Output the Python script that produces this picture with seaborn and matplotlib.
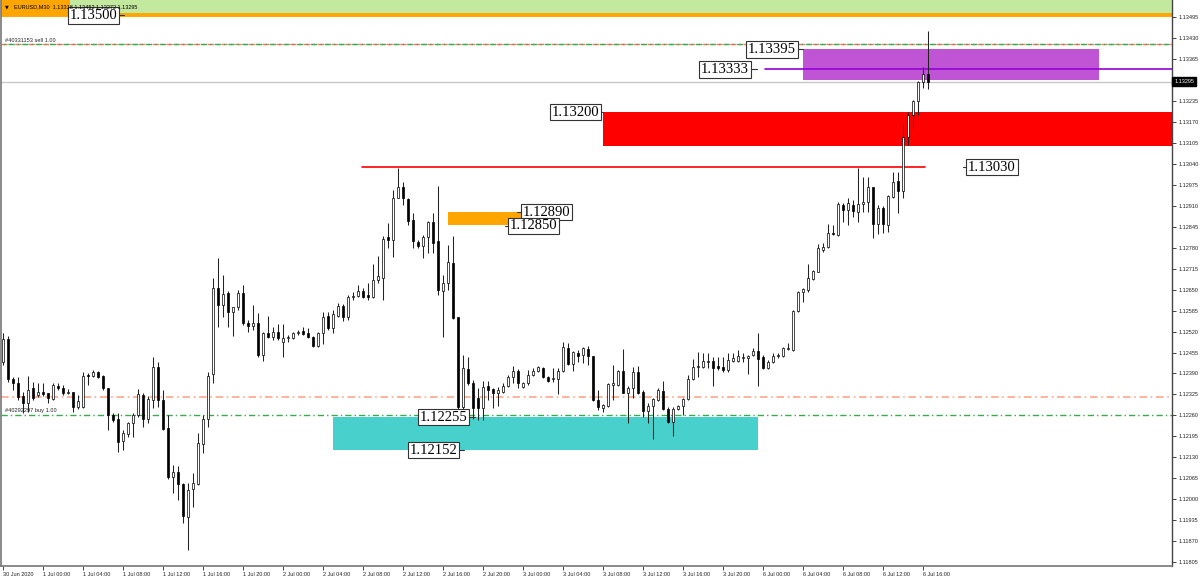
import numpy as np
import pandas as pd
import matplotlib
matplotlib.use("Agg")
import matplotlib.pyplot as plt
from matplotlib.patches import Rectangle
import seaborn as sns

sns.set_style("white")
plt.rcParams['font.family'] = ['Liberation Sans', 'DejaVu Sans']

# ---------------- data (prices in points, 1 point = 0.00001) ----------------
open_pts = [112426,112497,112373,112361,112320,112299,112345,112324,112333,112330,
            112311,112351,112345,112330,112333,112286,112286,112386,112382,112395,
            112382,112345,112262,112249,112181,112203,112237,112262,112324,112249,
            112308,112410,112308,112221,112069,112085,112048,111945,112032,112048,
            112172,112249,112389,112655,112602,112640,112581,112596,112640,112547,
            112538,112547,112448,112516,112503,112519,112488,112500,112500,112516,
            112522,112516,112503,112475,112516,112568,112531,112568,112599,112565,
            112627,112630,112646,112633,112627,112680,112686,112814,112804,112934,
            112968,112931,112866,112798,112786,112814,112860,112801,112646,112670,
            112733,112565,112286,112404,112361,112314,112283,112351,112342,112330,
            112333,112351,112379,112398,112348,112361,112386,112398,112407,112379,
            112373,112373,112398,112469,112420,112454,112448,112466,112444,112308,
            112283,112289,112355,112355,112398,112330,112345,112395,112333,112274,
            112289,112308,112336,112280,112240,112280,112289,112311,112373,112410,
            112410,112426,112429,112413,112410,112401,112429,112429,112438,112438,
            112448,112460,112441,112407,112426,112444,112444,112466,112463,112584,
            112643,112649,112683,112705,112773,112782,112826,112820,112913,112897,
            112913,112891,112916,112922,112968,112854,112903,112851,112937,112987,
            112956,113123,113192,113235,113294,113318]
high_pts = [112516,112506,112379,112379,112333,112382,112364,112361,112361,112330,
            112361,112361,112355,112342,112333,112324,112395,112392,112401,112398,
            112386,112345,112268,112268,112215,112240,112268,112342,112330,112320,
            112441,112426,112339,112262,112106,112103,112051,112051,112082,112206,
            112262,112395,112686,112748,112696,112646,112596,112649,112664,112556,
            112602,112578,112519,112568,112534,112544,112544,112510,112519,112525,
            112534,112531,112506,112519,112581,112581,112587,112609,112606,112633,
            112643,112664,112655,112670,112730,112754,112817,112857,112959,113027,
            112984,112934,112888,112804,112820,112863,112888,112971,112696,112788,
            112817,112565,112448,112441,112370,112345,112367,112367,112345,112348,
            112361,112386,112413,112404,112364,112401,112407,112413,112410,112382,
            112407,112407,112488,112485,112460,112463,112472,112475,112444,112339,
            112296,112361,112416,112401,112466,112351,112410,112413,112339,112299,
            112314,112345,112367,112286,112286,112293,112314,112386,112435,112457,
            112454,112454,112441,112441,112441,112454,112454,112463,112454,112448,
            112469,112516,112448,112432,112454,112454,112472,112485,112587,112646,
            112655,112730,112711,112792,112795,112854,112851,112922,112919,112934,
            112928,113027,112999,112999,112968,112913,112910,112944,113015,113015,
            113164,113201,113238,113297,113340,113452]
low_pts = [112416,112364,112339,112308,112268,112271,112308,112317,112320,112299,
           112308,112339,112324,112327,112271,112280,112283,112355,112379,112376,
           112339,112215,112240,112147,112153,112193,112193,112255,112224,112237,
           112283,112286,112215,112063,112020,111998,111927,111843,111976,112045,
           112144,112224,112361,112534,112565,112534,112506,112587,112541,112519,
           112525,112441,112429,112500,112494,112494,112441,112488,112497,112510,
           112510,112500,112472,112472,112482,112525,112516,112565,112553,112556,
           112618,112627,112624,112618,112624,112670,112618,112779,112751,112934,
           112913,112851,112779,112779,112748,112764,112764,112633,112503,112649,
           112559,112277,112255,112355,112249,112246,112246,112308,112283,112289,
           112330,112348,112361,112345,112345,112355,112382,112395,112376,112364,
           112364,112327,112395,112416,112398,112426,112423,112416,112305,112277,
           112271,112286,112308,112351,112330,112237,112314,112327,112255,112237,
           112187,112305,112277,112237,112197,112277,112262,112308,112370,112379,
           112407,112407,112351,112401,112395,112395,112426,112426,112426,112389,
           112444,112351,112404,112404,112423,112438,112441,112463,112460,112581,
           112612,112643,112680,112705,112767,112779,112820,112817,112860,112851,
           112875,112860,112891,112891,112810,112823,112826,112829,112934,112888,
           112934,113098,113151,113192,113275,113272]
close_pts = [112497,112373,112361,112317,112299,112339,112314,112333,112327,112314,
             112355,112345,112330,112333,112286,112305,112382,112382,112395,112379,
             112345,112262,112246,112178,112206,112237,112262,112327,112249,112311,
             112410,112308,112218,112069,112085,112048,111948,112029,112051,112175,
             112249,112382,112655,112602,112637,112581,112596,112640,112547,112538,
             112547,112448,112516,112503,112519,112500,112500,112503,112516,112519,
             112513,112503,112475,112516,112565,112531,112575,112599,112565,112627,
             112630,112646,112627,112627,112680,112692,112807,112804,112934,112968,
             112934,112863,112801,112786,112814,112860,112795,112649,112670,112736,
             112562,112286,112407,112361,112283,112283,112348,112339,112330,112339,
             112351,112379,112398,112361,112361,112386,112398,112410,112379,112367,
             112376,112398,112472,112420,112457,112444,112469,112444,112308,112286,
             112293,112358,112361,112398,112330,112345,112395,112330,112274,112289,
             112311,112339,112280,112240,112280,112289,112311,112373,112410,112413,
             112429,112429,112407,112407,112401,112432,112438,112444,112441,112444,
             112460,112435,112407,112426,112444,112448,112469,112469,112584,112643,
             112652,112686,112708,112779,112782,112826,112823,112916,112897,112919,
             112894,112916,112922,112968,112854,112903,112854,112940,112984,112956,
             113123,113192,113235,113294,113318,113295]

symbol_title = "EURUSD,M30  1.13318 1.13452 1.13272 1.13295"
time_labels = ["30 Jun 2020", "1 Jul 00:00", "1 Jul 04:00", "1 Jul 08:00", "1 Jul 12:00",
               "1 Jul 16:00", "1 Jul 20:00", "2 Jul 00:00", "2 Jul 04:00", "2 Jul 08:00",
               "2 Jul 12:00", "2 Jul 16:00", "2 Jul 20:00", "3 Jul 00:00", "3 Jul 04:00",
               "3 Jul 08:00", "3 Jul 12:00", "3 Jul 16:00", "3 Jul 20:00", "6 Jul 00:00",
               "6 Jul 04:00", "6 Jul 08:00", "6 Jul 12:00", "6 Jul 16:00"]
bars_per_label = 8

# zones: (bar start, bar end, price low, price high, colour)
zone_start = [-5, 160, 120, 89, 66]
zone_end = [260, 219.2, 260, 105.4, 151]
zone_low = [1.13500, 1.13300, 1.13095, 1.12850, 1.12152]
zone_high = [1.14000, 1.13395, 1.13200, 1.12890, 1.12255]
zone_color = ['#C3E99E', '#BF55D5', '#FF0000', '#FFA500', '#48D1CC']

current_price = 1.13295
sell_price = 1.13412
buy_price = 1.12262
buy_sl = 1.12317
level_13030 = 1.13030
level_13333 = 1.13333
level_13500 = 1.13500

tick_start = 1.11805
tick_step = 0.00065

# ---------------- build ----------------
df = pd.DataFrame({"o": np.array(open_pts) / 1e5, "h": np.array(high_pts) / 1e5,
                   "l": np.array(low_pts) / 1e5, "c": np.array(close_pts) / 1e5})
df["x"] = np.arange(len(df))
df["bull"] = df["c"] >= df["o"]

fig = plt.figure(figsize=(12, 5.79), dpi=100)
ax = fig.add_axes([1 / 1200, 13 / 579, 1171 / 1200, 566 / 579])
ax.set_xlim(-0.4, 233.8)
ax.set_ylim(1.11793, 1.13548)

# zones
for s, e, lo, hi, col in zip(zone_start, zone_end, zone_low, zone_high, zone_color):
    ax.add_patch(Rectangle((s, lo), e - s, hi - lo, facecolor=col, edgecolor='none', zorder=1))
# orange block at top-left
ax.add_patch(Rectangle((-5, level_13500), 18.4, 0.001, facecolor='#FFA500', edgecolor='none', zorder=1.1))

# horizontal lines
ax.axhline(level_13500, color='#FFA500', lw=2.8, zorder=1.5)
ax.axhline(current_price, color='#C8C8C8', lw=1.0, zorder=1.2)
ax.axhline(sell_price, color='#F07A5A', lw=1.0, ls=(0, (4.5, 2.2, 1, 2.2)), zorder=1.6)
ax.axhline(sell_price, color='#3CA850', lw=1.0, ls=(4.9, (4.5, 2.2, 1, 2.2)), zorder=1.6)
ax.axhline(buy_sl, color='#FFA88A', lw=1.2, ls=(0, (4.5, 2.2, 1, 2.2)), zorder=1.6)
ax.axhline(buy_price, color='#3CA850', lw=1.0, ls=(0, (4.5, 2.2, 1, 2.2)), zorder=1.6)
ax.plot([71.8, 184.4], [level_13030, level_13030], color='#FF0000', lw=1.2, zorder=1.7)
ax.plot([152.4, 260], [level_13333, level_13333], color='#9400D3', lw=1.2, zorder=1.7)

# candles
ax.vlines(df["x"], df["l"], df["h"], color='#222222', lw=0.75, zorder=3)
body_low = np.minimum(df["o"], df["c"])
body_h = np.maximum(np.abs(df["c"] - df["o"]), 0.000012)
ax.bar(df["x"], body_h, bottom=body_low, width=0.56,
       color=np.where(df["bull"], 'white', 'black'), edgecolor='black', linewidth=0.5, zorder=4)

# price labels
box = dict(boxstyle='square,pad=0.12', fc='white', ec='#333333', lw=0.8)
lab_font = dict(family='Liberation Serif', fontsize=10.5, color='black', zorder=6)

def label(x, y, txt, ha, tick):
    ax.plot(tick, [y, y], color='#333333', lw=0.8, zorder=5)
    ax.text(x, y, txt, ha=ha, va='center', bbox=box, **lab_font)

label(22.8, 1.13500, "1.13500", 'right', [22.8, 24.2])
label(158.6, 1.13395, "1.13395", 'right', [158.6, 160])
label(149.2, 1.13333, "1.13333", 'right', [149.2, 150.8])
label(119.2, 1.13200, "1.13200", 'right', [119.2, 120])
label(193.0, 1.13030, "1.13030", 'left', [192.0, 193.0])
label(104.0, 1.12890, "1.12890", 'left', [102.8, 104.0])
label(101.4, 1.12848, "1.12850", 'left', [100.4, 101.4])
label(92.8, 1.12255, "1.12255", 'right', [92.8, 94.4])
label(90.8, 1.12152, "1.12152", 'right', [90.8, 92.2])

# order texts and title
small = dict(fontsize=4.1, color='#222222', zorder=7)
ax.text(0.4, 1.13421, "#40331153 sell 1.00", va='center', ha='left', **small)
ax.text(0.4, 1.12274, "#40292297 buy 1.00", va='center', ha='left', **small)
ax.text(0.003, 0.988, "\u25BC", transform=ax.transAxes, fontsize=3.5, va='center', ha='left',
        family='DejaVu Sans', color='black', zorder=7)
ax.text(0.011, 0.988, symbol_title, transform=ax.transAxes, fontsize=4.0, va='center',
        ha='left', color='black', zorder=7)

# axes styling (the tick hidden behind the current-price tag gets no label)
ticks_y = tick_start + tick_step * np.arange(27)
ytick_labels = ["" if abs(v - current_price) < tick_step / 2 else f"{v:.5f}" for v in ticks_y]
ax.yaxis.tick_right()
ax.set_yticks(ticks_y)
ax.set_yticklabels(ytick_labels)
ax.set_xticks(np.arange(len(time_labels)) * bars_per_label)
ax.set_xticklabels(time_labels, ha='left')
ax.tick_params(axis='y', which='both', right=True, length=3, width=0.6, pad=2,
               labelsize=4.0, colors='#222222')
ax.tick_params(axis='x', which='both', bottom=True, length=3, width=0.6, pad=1.5,
               labelsize=4.0, colors='#222222')
for sp in ['left', 'bottom']:
    ax.spines[sp].set_color('#777777')
    ax.spines[sp].set_linewidth(1.2)
ax.spines['right'].set_color('#444444')
ax.spines['right'].set_linewidth(1.0)
ax.spines['top'].set_visible(False)
ax.grid(False)

# current price tag on the price axis
ax.text(1.002, current_price, f"{current_price:.5f}",
        transform=ax.get_yaxis_transform(), ha='left', va='center', fontsize=4.0, color='white',
        bbox=dict(boxstyle='square,pad=0.35', fc='black', ec='black'), clip_on=False, zorder=10)

fig.savefig("out.png", dpi=100)
